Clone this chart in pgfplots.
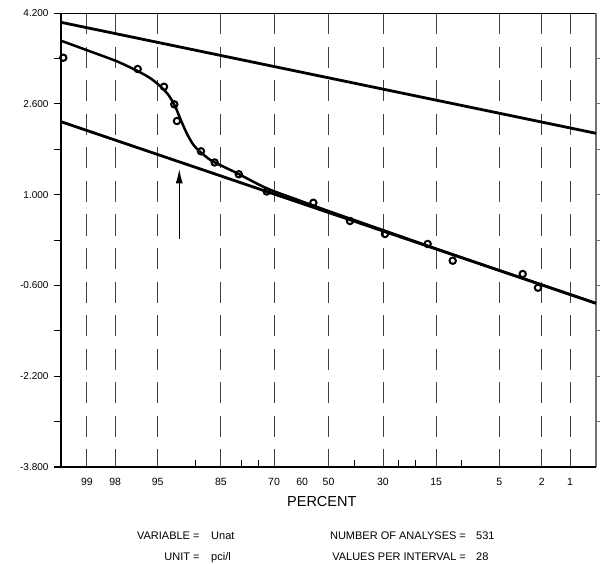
\documentclass[border=0pt]{standalone}
\usepackage{fontspec}
\setmainfont{Liberation Sans}
\usepackage{pgfplots}
\pgfplotsset{compat=1.18}
\usetikzlibrary{arrows.meta}

% x = -z (normal quantile), so 99 % sits at the left
\pgfplotstableread{
x y
-2.554 3.412
-1.837 3.213
-1.584 2.901
-1.485 2.591
-1.459 2.297
-1.228 1.763
-1.096 1.566
-0.864 1.359
-0.595 1.055
-0.146 0.857
0.207 0.535
0.544 0.306
0.955 0.130
1.196 -0.165
1.870 -0.399
2.017 -0.641
}\samples

\pgfplotstableread{
x y
-2.5758 3.712
-2.297 3.525
-2.040 3.350
-1.847 3.185
-1.719 3.055
-1.623 2.915
-1.543 2.760
-1.478 2.560
-1.430 2.350
-1.365 2.080
-1.302 1.880
-1.237 1.756
-1.141 1.615
-1.045 1.522
-0.917 1.410
-0.852 1.350
-0.595 1.111
-0.300 0.910
0.000 0.710
0.500 0.390
1.000 0.070
1.500 -0.245
2.000 -0.555
2.5758 -0.914
}\mixfit

\begin{document}
\begin{tikzpicture}
\begin{axis}[
  scale only axis, width=535pt, height=454pt,
  xmin=-2.5758, xmax=2.5758, ymin=-3.8, ymax=4.2,
  clip=false,
  axis line style={draw=none},
  xtick={-2.3263,-2.0537,-1.6449,-1.0364,-0.5244,0,0.5244,1.0364,1.6449,2.0537,2.3263},
  xticklabels={99,98,95,85,70,50,30,15,5,2,1},
  extra x ticks={-0.2533}, extra x tick labels={60},
  extra x tick style={grid=none},
  xtick style={draw=none},
  xmajorgrids,
  major x grid style={black!75, line width=0.9pt, dash pattern=on 21pt off 12.5pt, dash phase=3pt},
  ytick={-3.8,-2.2,-0.6,1.0,2.6,4.2},
  yticklabels={-3.800,-2.200,-0.600,1.000,2.600,4.200},
  minor y tick num=1,
  ytick pos=left, tick align=outside,
  major tick length=7pt, minor tick length=7pt,
  ytick style={black, line width=0.9pt},
  minor y tick style={black, line width=0.9pt},
  xticklabel style={font=\fontsize{10.5}{12}\selectfont, yshift=-1pt},
  yticklabel style={font=\fontsize{10}{12}\selectfont, xshift=-2pt},
]
% frame
\draw[black, line width=1pt] (rel axis cs:0,1) -- (rel axis cs:1,1);
\draw[black!55, line width=1.3pt] (rel axis cs:1,0) -- (rel axis cs:1,1);
\draw[black, line width=2pt] (rel axis cs:0,0) -- (rel axis cs:0,1);
\draw[black, line width=2pt] ([xshift=-7pt]rel axis cs:0,0) -- (rel axis cs:1,0);
% right ticks
\foreach \v in {-3.0,-2.2,-1.4,-0.6,0.2,1.0,1.8,2.6,3.4}{
  \edef\tmp{\noexpand\draw[black!55, line width=1pt] (axis cs:2.5758,\v) -- ([xshift=4pt]axis cs:2.5758,\v);}\tmp
}
% minor probability ticks (90 80 75 40 25 20 10)
\draw[black, line width=1.1pt] (axis cs:-1.2816,-3.8) -- ([yshift=7pt]axis cs:-1.2816,-3.8);
\draw[black, line width=1.1pt] (axis cs:-0.8416,-3.8) -- ([yshift=7pt]axis cs:-0.8416,-3.8);
\draw[black, line width=1.1pt] (axis cs:-0.6745,-3.8) -- ([yshift=7pt]axis cs:-0.6745,-3.8);
\draw[black, line width=1.1pt] (axis cs:0.2533,-3.8) -- ([yshift=7pt]axis cs:0.2533,-3.8);
\draw[black, line width=1.1pt] (axis cs:0.6745,-3.8) -- ([yshift=7pt]axis cs:0.6745,-3.8);
\draw[black, line width=1.1pt] (axis cs:0.8416,-3.8) -- ([yshift=7pt]axis cs:0.8416,-3.8);
\draw[black, line width=1.1pt] (axis cs:1.2816,-3.8) -- ([yshift=7pt]axis cs:1.2816,-3.8);

\addplot[black, line width=2.8pt] coordinates {(-2.5758,4.036) (2.5758,2.080)};
\addplot[black, line width=2.8pt] coordinates {(-2.5758,2.285) (2.5758,-0.916)};
\addplot[black, line width=2.5pt, smooth, tension=0.5] table[x=x,y=y] {\mixfit};
\addplot[only marks, mark=o, mark size=3.2pt, black, line width=2pt,
  mark options={line width=2pt}] table[x=x,y=y] {\samples};

\draw[-{Latex[length=14pt,width=7pt]}, line width=0.8pt] (axis cs:-1.437,0.212) -- (axis cs:-1.437,1.446);

\coordinate (bl) at (rel axis cs:0,0);

\node[anchor=base, inner sep=0, font=\fontsize{14.5}{16}\selectfont] at (axis cs:-0.0645,-4.499) {PERCENT};
\begin{scope}[every node/.style={inner sep=0, font=\fontsize{11}{13}\selectfont}]
\node[anchor=base east] at (axis cs:-1.240,-5.086) {VARIABLE =};
\node[anchor=base west] at (axis cs:-1.131,-5.086) {Unat};
\node[anchor=base east] at (axis cs:-1.240,-5.439) {UNIT =};
\node[anchor=base west] at (axis cs:-1.131,-5.439) {pci/l};
\node[anchor=base east] at (axis cs:1.325,-5.086) {NUMBER OF ANALYSES =};
\node[anchor=base west] at (axis cs:1.420,-5.086) {531};
\node[anchor=base east] at (axis cs:1.325,-5.439) {VALUES PER INTERVAL =};
\node[anchor=base west] at (axis cs:1.420,-5.439) {28};
\end{scope}
\end{axis}
\pgfresetboundingbox
\path ([shift={(-61pt,-96pt)}]bl) rectangle ([shift={(539pt,467pt)}]bl);
\end{tikzpicture}
\end{document}
